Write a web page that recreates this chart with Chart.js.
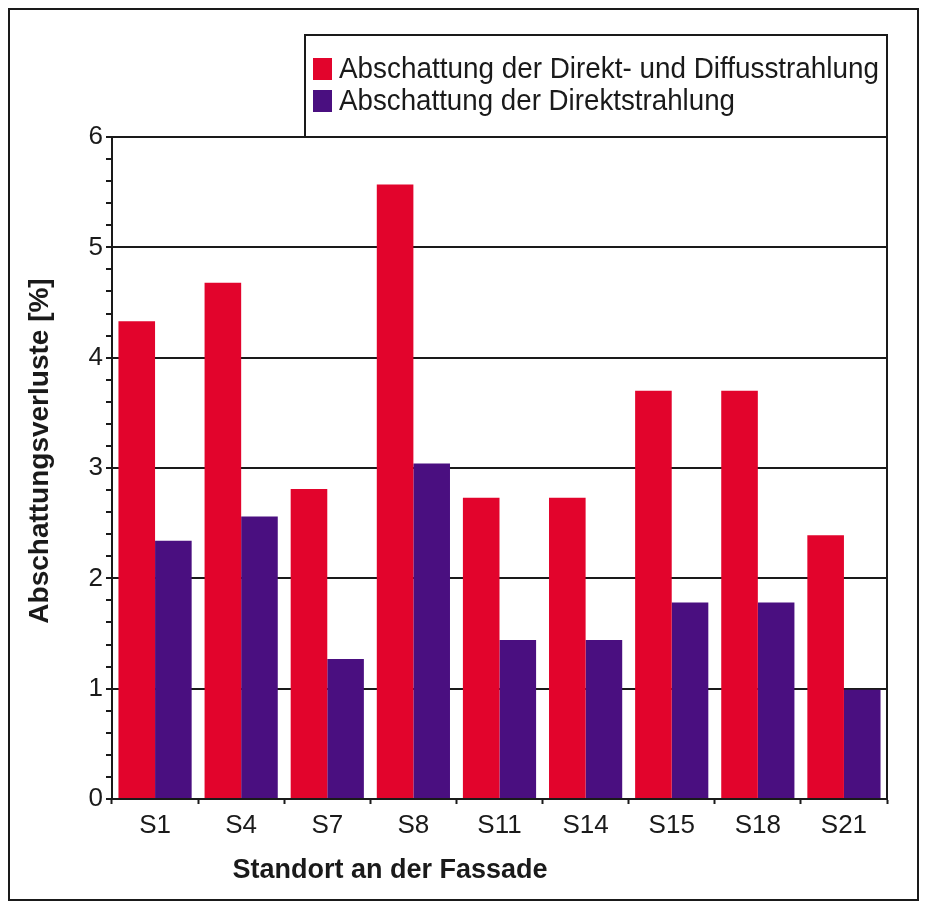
<!DOCTYPE html>
<html>
<head>
<meta charset="utf-8">
<script src="https://cdn.jsdelivr.net/npm/chart.js@4"></script>
<style>
  html, body { margin: 0; padding: 0; background: #fff; }
  #wrap { position: relative; width: 927px; height: 909px; }
  #frame { position: absolute; left: 8px; top: 8px; width: 907px; height: 889px; border: 2px solid #1a1a1a; pointer-events: none; }
  canvas { position: absolute; left: 0; top: 0; }
</style>
</head>
<body>
<div id="wrap">
  <canvas id="c" width="927" height="909"></canvas>
  <div id="frame"></div>
</div>
<script>
// Measuring points on the facade
const categories = ['S1', 'S4', 'S7', 'S8', 'S11', 'S14', 'S15', 'S18', 'S21'];
// Shading losses in percent
const directAndDiffuse = [4.33, 4.68, 2.81, 5.57, 2.73, 2.73, 3.70, 3.70, 2.39];
const directOnly = [2.34, 2.56, 1.27, 3.04, 1.44, 1.44, 1.78, 1.78, 0.99];
const seriesLabels = ['Abschattung der Direkt- und Diffusstrahlung', 'Abschattung der Direktstrahlung'];
const yTitle = 'Abschattungsverluste [%]';
const xTitle = 'Standort an der Fassade';

const RED = '#e2042c';
const PURPLE = '#4a0f80';
const INK = '#1a1a1a';
const FONT = "'Liberation Sans', Arial, Helvetica, sans-serif";

// Plot frame, legend box and axis captions
const decorations = {
  id: 'decorations',
  afterDraw(chart) {
    const { ctx, chartArea: a } = chart;
    ctx.save();
    ctx.strokeStyle = INK;
    ctx.lineWidth = 2;
    // right edge and top of the plot
    ctx.beginPath();
    ctx.moveTo(a.left, a.top);
    ctx.lineTo(a.right, a.top);
    ctx.lineTo(a.right, a.bottom);
    ctx.stroke();

    // legend box
    const bx = 305, by = 35;
    ctx.beginPath();
    ctx.moveTo(bx, a.top);
    ctx.lineTo(bx, by);
    ctx.lineTo(a.right, by);
    ctx.lineTo(a.right, a.top);
    ctx.stroke();

    ctx.font = '30px ' + FONT;
    ctx.textBaseline = 'middle';
    chart.data.datasets.forEach((ds, i) => {
      const cy = 69 + i * 32;
      ctx.fillStyle = ds.backgroundColor;
      ctx.fillRect(313, cy - 11, 19, 22);
      ctx.fillStyle = INK;
      ctx.fillText(ds.label, 339, cy + 1, i === 0 ? 540 : 396);
    });

    // axis captions
    ctx.fillStyle = INK;
    ctx.font = 'bold 27px ' + FONT;
    ctx.textAlign = 'center';
    ctx.fillText(xTitle, 390, 871, 316);

    ctx.translate(40, 451);
    ctx.rotate(-Math.PI / 2);
    ctx.font = 'bold 28px ' + FONT;
    ctx.fillText(yTitle, 0, 0, 360);
    ctx.restore();
  }
};

new Chart(document.getElementById('c'), {
  type: 'bar',
  data: {
    labels: categories,
    datasets: [
      { label: seriesLabels[0], data: directAndDiffuse, backgroundColor: RED },
      { label: seriesLabels[1], data: directOnly, backgroundColor: PURPLE }
    ]
  },
  options: {
    responsive: false,
    animation: false,
    devicePixelRatio: 1,
    layout: { padding: { left: 0, right: 40, top: 137, bottom: 0 } },
    datasets: { bar: { categoryPercentage: 0.85, barPercentage: 1.0, borderWidth: 0 } },
    plugins: { legend: { display: false }, tooltip: { enabled: false } },
    scales: {
      x: {
        afterFit(scale) { scale.height = 110; },
        grid: {
          offset: true,
          drawOnChartArea: false,
          tickColor: INK,
          tickWidth: 2,
          tickLength: 5
        },
        border: { color: INK, width: 2 },
        ticks: { color: INK, font: { family: FONT, size: 26 }, padding: 6 }
      },
      y: {
        min: 0,
        max: 6,
        afterFit(scale) { scale.width = 112; },
        grid: {
          color(ctx) {
            const v = ctx.tick ? ctx.tick.value : 0;
            return Math.abs(v - Math.round(v)) < 1e-6 ? INK : 'rgba(0,0,0,0)';
          },
          lineWidth: 2,
          tickColor: INK,
          tickWidth: 2,
          tickLength: 6
        },
        border: { color: INK, width: 2 },
        ticks: {
          stepSize: 0.2,
          autoSkip: false,
          color: INK,
          font: { family: FONT, size: 26 },
          padding: 3,
          callback(v) {
            return Math.abs(v - Math.round(v)) < 1e-6 ? String(Math.round(v)) : '';
          }
        }
      }
    }
  },
  plugins: [decorations]
});
</script>
</body>
</html>
